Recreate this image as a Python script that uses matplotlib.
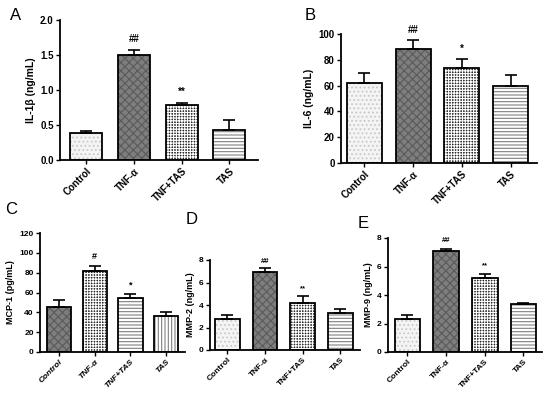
import matplotlib
matplotlib.use('Agg')
import matplotlib.pyplot as plt

plt.rcParams['font.family'] = ['Liberation Sans', 'DejaVu Sans']
plt.rcParams['hatch.linewidth'] = 0.8

groups = ['Control', 'TNF-α', 'TNF+TAS', 'TAS']

# panel data
il1b = [0.38, 1.50, 0.78, 0.43]
il1b_err = [0.03, 0.07, 0.04, 0.14]
il1b_sig = ['', '##', '**', '']

il6 = [62, 88, 74, 60]
il6_err = [8, 7, 7, 8]
il6_sig = ['', '##', '*', '']

mcp1 = [45, 82, 54, 36]
mcp1_err = [7, 5, 4, 4]
mcp1_sig = ['', '#', '*', '']

mmp2 = [2.8, 6.9, 4.2, 3.3]
mmp2_err = [0.3, 0.35, 0.6, 0.35]
mmp2_sig = ['', '##', '**', '']

mmp9 = [2.3, 7.1, 5.2, 3.35]
mmp9_err = [0.3, 0.15, 0.3, 0.1]
mmp9_sig = ['', '##', '**', '']

W, H = 550, 395
fig = plt.figure(figsize=(5.5, 3.95), dpi=100)

# fill styles: (face, hatch colour, hatch)
dots = ('#f4f4f4', '#c8c8c8', '....')
dark = ('#7e7e7e', '#5a5a5a', 'xxxx')
check = ('#2a2a2a', 'white', '++++++')
hlines = ('white', '#808080', '-----')
vlines = ('white', '#808080', '|||||')


def panel(px, letter, lpos, vals, errs, sig, ylab, ylim, yticks, xlim, width,
          styles, fs=7, italic=False, sigfs=7):
    l, r, b, t = px
    ax = fig.add_axes([l / W, 1 - b / H, (r - l) / W, (b - t) / H])
    x = range(len(vals))
    for i in x:
        face, hc, hatch = styles[i]
        ax.bar(i, vals[i], width, color=face, edgecolor=hc, hatch=hatch, lw=0)
        ax.bar(i, vals[i], width, fill=False, edgecolor='black', lw=1.3)
    ax.errorbar(list(x), vals, yerr=[[0] * 4, errs], fmt='none', ecolor='black',
                elinewidth=1.2, capsize=4, capthick=1.2)
    for i in x:
        if sig[i]:
            ax.text(i, vals[i] + errs[i] + ylim[1] * 0.04, sig[i], ha='center',
                    va='bottom', fontsize=sigfs, fontweight='bold')
    ax.set_xlim(*xlim)
    ax.set_ylim(*ylim)
    ax.set_yticks(yticks)
    ax.set_xticks(list(x))
    ax.set_xticklabels(groups, rotation=45, ha='right', rotation_mode='anchor',
                       fontsize=fs, fontweight='bold',
                       style='italic' if italic else 'normal')
    for lab in ax.get_yticklabels():
        lab.set_fontsize(fs)
        lab.set_fontweight('bold')
    ax.set_ylabel(ylab, fontsize=fs + 0.5, fontweight='bold', labelpad=3)
    ax.spines['top'].set_visible(False)
    ax.spines['right'].set_visible(False)
    ax.spines['left'].set_linewidth(1.3)
    ax.spines['bottom'].set_linewidth(1.3)
    ax.tick_params(axis='y', length=3, width=1, pad=1.5)
    ax.tick_params(axis='x', length=3, width=1, pad=1.5)
    fig.text(lpos[0] / W, 1 - lpos[1] / H, letter, fontsize=12, ha='center',
             va='center')
    return ax


panel((60, 258, 160, 20), 'A', (16, 15), il1b, il1b_err, il1b_sig,
      'IL-1β (ng/mL)', (0, 2.0), [0.0, 0.5, 1.0, 1.5, 2.0], (-0.55, 3.6), 0.67,
      [dots, dark, check, hlines])
panel((341, 537, 163, 34), 'B', (310, 15), il6, il6_err, il6_sig,
      'IL-6 (ng/mL)', (0, 100), [0, 20, 40, 60, 80, 100], (-0.48, 3.54), 0.72,
      [dots, dark, check, hlines])
panel((40, 185, 352, 233), 'C', (11, 210), mcp1, mcp1_err, mcp1_sig,
      'MCP-1 (pg/mL)', (0, 120), [0, 20, 40, 60, 80, 100, 120], (-0.53, 3.53), 0.68,
      [dark, check, hlines, vlines], fs=6, italic=True, sigfs=6.5)
panel((210, 360, 350, 260), 'D', (192, 220), mmp2, mmp2_err, mmp2_sig,
      'MMP-2 (ng/mL)', (0, 8), [0, 2, 4, 6, 8], (-0.46, 3.52), 0.66,
      [dots, dark, check, hlines], fs=6, sigfs=5.5)
panel((388, 542, 352, 238), 'E', (363, 223), mmp9, mmp9_err, mmp9_sig,
      'MMP-9 (ng/mL)', (0, 8), [0, 2, 4, 6, 8], (-0.5, 3.48), 0.66,
      [dots, dark, check, hlines], fs=6, sigfs=5.5)

fig.savefig('out.png', dpi=100)
